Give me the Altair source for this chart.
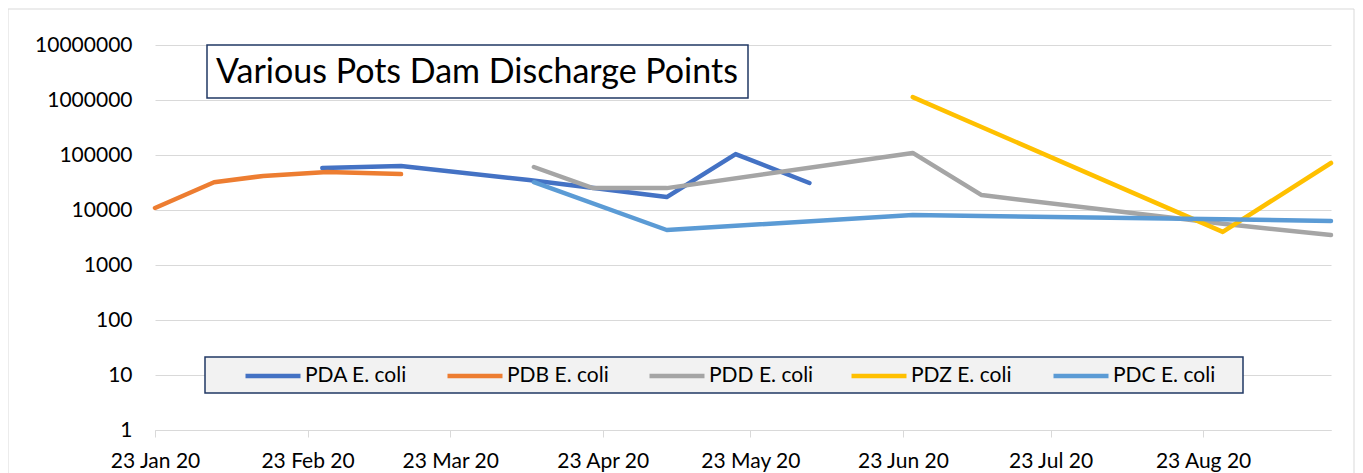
import altair as alt
import pandas as pd

series_names = ["PDA E. coli", "PDB E. coli", "PDD E. coli", "PDZ E. coli", "PDC E. coli"]
colors = ["#4472C4", "#ED7D31", "#A5A5A5", "#FFC000", "#5B9BD5"]

pda_dates = ["2020-02-26", "2020-03-13", "2020-04-08", "2020-05-06", "2020-05-20", "2020-06-04"]
pda_values = [58000, 63000, 35000, 17200, 104000, 31000]

pdb_dates = ["2020-01-23", "2020-02-04", "2020-02-14", "2020-02-27", "2020-03-13"]
pdb_values = [10900, 32000, 41600, 49000, 45000]

pdd_dates = ["2020-04-09", "2020-04-21", "2020-05-06", "2020-06-25", "2020-07-09", "2020-08-27", "2020-09-18"]
pdd_values = [60500, 25000, 25000, 109000, 18700, 5600, 3500]

pdz_dates = ["2020-06-25", "2020-08-27", "2020-09-18"]
pdz_values = [1130000, 4000, 71600]

pdc_dates = ["2020-04-09", "2020-05-06", "2020-06-25", "2020-07-09", "2020-08-27", "2020-09-18"]
pdc_values = [32000, 4330, 8100, 7800, 6800, 6300]

tick_months = [1, 2, 3, 4, 5, 6, 7, 8]
tick_day = 23
y_ticks = [1, 10, 100, 1000, 10000, 100000, 1000000, 10000000]
title_text = "Various Pots Dam Discharge Points"

all_dates = [pda_dates, pdb_dates, pdd_dates, pdz_dates, pdc_dates]
all_values = [pda_values, pdb_values, pdd_values, pdz_values, pdc_values]

FONT = "Lato"

x_enc = alt.X(
    "date:T",
    scale=alt.Scale(domain=[alt.DateTime(year=2020, month=1, date=23),
                            alt.DateTime(year=2020, month=9, date=18)]),
    axis=alt.Axis(
        title=None,
        values=[alt.DateTime(year=2020, month=m, date=tick_day) for m in tick_months],
        format="%d %b %y",
        grid=False,
        domain=True, domainColor="#D9D9D9", domainWidth=1,
        ticks=True, tickColor="#D9D9D9", tickSize=7, tickWidth=1,
        labelFont=FONT, labelFontSize=21, labelColor="#000000",
        labelPadding=13, labelFlush=False, labelOverlap=False,
    ),
)
y_enc = alt.Y(
    "value:Q",
    scale=alt.Scale(type="log", domain=[1, 10000000], nice=False),
    axis=alt.Axis(
        title=None,
        values=y_ticks,
        format="d",
        domain=False, ticks=False,
        grid=True, gridColor="#D9D9D9", gridWidth=1,
        labelFont=FONT, labelFontSize=21, labelColor="#000000",
        labelPadding=23,
    ),
)
color_enc = alt.Color(
    "series:N",
    scale=alt.Scale(domain=series_names, range=colors),
    legend=alt.Legend(
        title=None, orient="none", legendX=88, legendY=301,
        direction="horizontal", columns=5,
        symbolType="stroke", symbolSize=3025, symbolStrokeWidth=4.5,
        labelFont=FONT, labelFontSize=21, labelColor="#000000",
        labelOffset=2, columnPadding=28, padding=0, gridAlign="all",
    ),
)

# frame / boxes
frame = alt.Chart(pd.DataFrame({"k": [0]})).mark_rect(
    fill=None, stroke="#D9D9D9", strokeWidth=1
).encode(x=alt.value(-147), x2=alt.value(1199), y=alt.value(-36), y2=alt.value(445))

title_box = alt.Chart(pd.DataFrame({"k": [0]})).mark_rect(
    fill="white", stroke="#203864", strokeWidth=1.5
).encode(x=alt.value(52), x2=alt.value(593), y=alt.value(0), y2=alt.value(53))

title_mark = alt.Chart(pd.DataFrame({"t": [title_text]})).mark_text(
    font=FONT, fontSize=34, color="#000000", align="center", baseline="middle"
).encode(x=alt.value(322), y=alt.value(28), text="t:N")

legend_box = alt.Chart(pd.DataFrame({"k": [0]})).mark_rect(
    fill="#F2F2F2", stroke="#203864", strokeWidth=1.5
).encode(x=alt.value(50), x2=alt.value(1088), y=alt.value(312), y2=alt.value(348))

layers = [frame, title_box, title_mark, legend_box]
for name, ds, vs in zip(series_names, all_dates, all_values):
    df = pd.DataFrame({
        "series": [name] * len(ds),
        "date": [d + "T00:00:00" for d in ds],
        "value": vs,
    })
    layers.append(
        alt.Chart(df).mark_line(strokeWidth=4.5, strokeCap="round", strokeJoin="round").encode(
            x=x_enc, y=y_enc, color=color_enc
        )
    )

chart = alt.layer(*layers).properties(
    width=1176, height=385,
    padding={"left": 147, "top": 37, "right": 24, "bottom": 43},
    autosize=alt.AutoSizeParams(type="none"),
    background="white",
).configure_view(stroke=None)

chart.save("out.html", embed_options={"renderer": "svg", "actions": False})
